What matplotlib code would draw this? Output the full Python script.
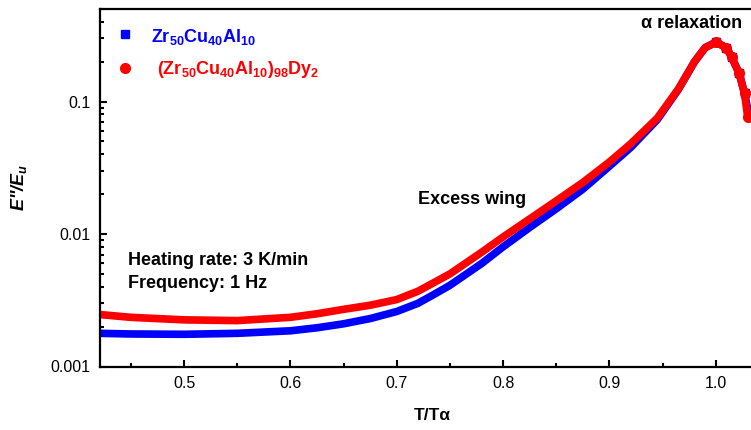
import matplotlib
matplotlib.use('Agg')
from matplotlib import pyplot as plt
from matplotlib.lines import Line2D
from matplotlib.ticker import LogLocator, FixedLocator, NullFormatter

plt.rcParams['font.family'] = ['Liberation Sans', 'DejaVu Sans']
plt.rcParams['mathtext.fontset'] = 'custom'
plt.rcParams['mathtext.rm'] = 'Liberation Sans'
plt.rcParams['mathtext.bf'] = 'Liberation Sans:bold'
plt.rcParams['mathtext.it'] = 'Liberation Sans:italic:bold'

# dados
t_blue = [0.42, 0.45, 0.50, 0.55, 0.60, 0.625, 0.65, 0.675, 0.70, 0.72, 0.735, 0.75,
          0.78, 0.80, 0.825, 0.85, 0.875, 0.90, 0.92, 0.945, 0.965, 0.98, 0.99,
          1.00, 1.01, 1.015, 1.022, 1.027, 1.031]
e_blue = [0.00178, 0.00176, 0.00175, 0.00178, 0.00186, 0.00196, 0.0021, 0.0023,
          0.0026, 0.0030, 0.0035, 0.0041, 0.0060, 0.0080, 0.0112, 0.0155, 0.0218,
          0.0325, 0.045, 0.073, 0.124, 0.2, 0.255, 0.28, 0.255, 0.215, 0.163,
          0.115, 0.08]

t_red = [0.42, 0.45, 0.50, 0.55, 0.60, 0.625, 0.65, 0.675, 0.70, 0.72, 0.735, 0.75,
         0.78, 0.80, 0.825, 0.85, 0.875, 0.90, 0.92, 0.945, 0.965, 0.98, 0.99,
         1.00, 1.01, 1.015, 1.022, 1.027, 1.030]
e_red = [0.00247, 0.00235, 0.00225, 0.00222, 0.00235, 0.0025, 0.0027, 0.0029,
         0.0032, 0.0037, 0.0043, 0.0050, 0.0073, 0.0095, 0.0130, 0.0178, 0.0245,
         0.035, 0.048, 0.075, 0.125, 0.2, 0.255, 0.28, 0.255, 0.215, 0.163,
         0.115, 0.076]

W, H = 751, 430
def fx(p):
    return p / W
def fy(p):
    return 1 - p / H

fig = plt.figure(figsize=(7.51, 4.30), dpi=100)
ax = fig.add_axes([fx(100), fy(366.5), (769 - 100) / W, (366.5 - 8.9) / H])

# curvas grossas + pontos discretos depois do pico
npk = t_red.index(1.00)
ax.plot(t_blue, e_blue, color='#0000ff', lw=5.5, solid_capstyle='round')
ax.plot(t_blue[npk:], e_blue[npk:], color='#0000ff', ls='', marker='s', ms=6)
ax.plot(t_red, e_red, color='#ff0000', lw=5.5, solid_capstyle='round')
ax.plot(t_red[npk:], e_red[npk:], color='#ff0000', ls='', marker='o', ms=7)

ax.set_yscale('log')
ax.set_xlim(0.421, 1.05)
ax.set_ylim(0.001, 0.5)
ax.xaxis.set_major_locator(FixedLocator([0.5, 0.6, 0.7, 0.8, 0.9, 1.0]))
ax.xaxis.set_minor_locator(FixedLocator([0.45, 0.55, 0.65, 0.75, 0.85, 0.95]))
ax.set_xticklabels(['0.5', '0.6', '0.7', '0.8', '0.9', '1.0'])
ax.yaxis.set_major_locator(FixedLocator([0.001, 0.01, 0.1]))
ax.set_yticklabels(['0.001', '0.01', '0.1'])
ax.yaxis.set_minor_locator(LogLocator(base=10, subs=range(2, 10)))
ax.yaxis.set_minor_formatter(NullFormatter())

ax.tick_params(which='both', direction='in', labelsize=11.5, width=1.5)
ax.tick_params(which='major', length=5, pad=7)
ax.tick_params(which='minor', length=3)
for s in ax.spines.values():
    s.set_linewidth(1.6)

ax.set_xlabel('T/Tα', fontsize=12.5, fontweight='bold')
ax.xaxis.set_label_coords(0.497, -0.115)
ax.set_ylabel(r"$E$''/$E_u$", fontsize=13, fontweight='bold', style='italic')
ax.yaxis.set_label_coords(-0.106, 0.5)

# legenda manual
fig.add_artist(Line2D([fx(125)], [fy(34)], marker='s', color='#0000ff', ms=6, ls=''))
fig.add_artist(Line2D([fx(125)], [fy(68)], marker='o', color='#ff0000', ms=7, ls=''))
fig.text(fx(151), fy(42), r'$\mathbf{Zr_{50}Cu_{40}Al_{10}}$', color='#0000ff', fontsize=13)
fig.text(fx(157), fy(74), r'$\mathbf{(Zr_{50}Cu_{40}Al_{10})_{98}Dy_{2}}$', color='#ff0000', fontsize=13)

fig.text(fx(128), fy(265), 'Heating rate: 3 K/min', fontsize=13, fontweight='bold')
fig.text(fx(128), fy(288), 'Frequency: 1 Hz', fontsize=13, fontweight='bold')
fig.text(fx(472), fy(204), 'Excess wing', fontsize=13, fontweight='bold', ha='center')
fig.text(fx(641), fy(28), 'α relaxation', fontsize=13, fontweight='bold')

fig.savefig('out.png', dpi=100)
